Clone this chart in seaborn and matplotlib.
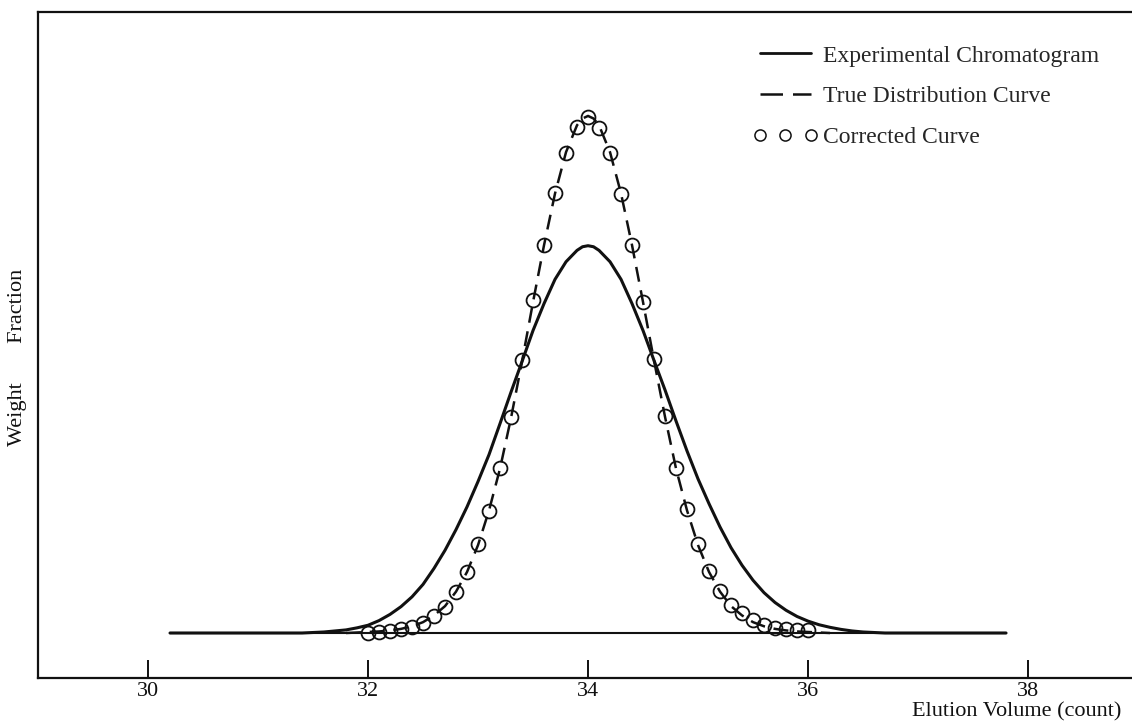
import numpy as np
import pandas as pd
import matplotlib
matplotlib.use("Agg")
import matplotlib.pyplot as plt
import seaborn as sns
from matplotlib.lines import Line2D

# ---------------- data ----------------
solid_x = [30.2, 31.4, 31.5, 31.6, 31.7, 31.8, 31.9, 32.0, 32.1, 32.2, 32.3, 32.4,
           32.5, 32.6, 32.7, 32.8, 32.9, 33.0, 33.1, 33.2, 33.3, 33.4, 33.5, 33.6,
           33.7, 33.8, 33.9, 33.95, 34.0, 34.05, 34.1, 34.2, 34.3, 34.4, 34.5, 34.6,
           34.7, 34.8, 34.9, 35.0, 35.1, 35.2, 35.3, 35.4, 35.5, 35.6, 35.7, 35.8,
           35.9, 36.0, 36.1, 36.2, 36.3, 36.4, 36.5, 36.6, 36.7, 37.8]
solid_y = [0.000, 0.000, 0.001, 0.002, 0.004, 0.006, 0.010, 0.015, 0.024, 0.036, 0.051, 0.070,
           0.094, 0.125, 0.160, 0.200, 0.244, 0.293, 0.345, 0.405, 0.466, 0.525, 0.585, 0.637,
           0.684, 0.718, 0.740, 0.747, 0.749, 0.747, 0.740, 0.718, 0.684, 0.637, 0.585, 0.527,
           0.470, 0.410, 0.352, 0.298, 0.250, 0.205, 0.165, 0.131, 0.102, 0.078, 0.059, 0.044,
           0.032, 0.023, 0.016, 0.011, 0.007, 0.004, 0.002, 0.001, 0.000, 0.000]

true_x = [31.8, 31.9, 32.0, 32.1, 32.2, 32.3, 32.4, 32.5, 32.6, 32.7, 32.8, 32.9,
          33.0, 33.1, 33.2, 33.3, 33.4, 33.5, 33.6, 33.7, 33.8, 33.9, 33.95, 34.0,
          34.05, 34.1, 34.2, 34.3, 34.4, 34.5, 34.6, 34.7, 34.8, 34.9, 35.0, 35.1,
          35.2, 35.3, 35.4, 35.5, 35.6, 35.7, 35.8, 35.9, 36.0, 36.1, 36.2]
true_y = [0.000, 0.001, 0.002, 0.003, 0.005, 0.008, 0.013, 0.021, 0.034, 0.052, 0.080, 0.118,
          0.170, 0.237, 0.318, 0.416, 0.525, 0.640, 0.750, 0.850, 0.930, 0.982, 0.995, 1.000,
          0.995, 0.982, 0.930, 0.850, 0.750, 0.640, 0.527, 0.418, 0.318, 0.237, 0.170, 0.118,
          0.080, 0.052, 0.034, 0.021, 0.013, 0.008, 0.005, 0.003, 0.002, 0.001, 0.000]

corr_x = [32.0, 32.1, 32.2, 32.3, 32.4, 32.5, 32.6, 32.7, 32.8, 32.9, 33.0, 33.1,
          33.2, 33.3, 33.4, 33.5, 33.6, 33.7, 33.8, 33.9, 34.0, 34.1, 34.2, 34.3,
          34.4, 34.5, 34.6, 34.7, 34.8, 34.9, 35.0, 35.1, 35.2, 35.3, 35.4, 35.5,
          35.6, 35.7, 35.8, 35.9, 36.0]
corr_y = [0.000, 0.002, 0.004, 0.008, 0.012, 0.019, 0.033, 0.050, 0.079, 0.118, 0.172, 0.236,
          0.319, 0.418, 0.528, 0.644, 0.750, 0.851, 0.928, 0.979, 0.998, 0.977, 0.928, 0.849,
          0.750, 0.641, 0.530, 0.420, 0.319, 0.240, 0.172, 0.120, 0.081, 0.054, 0.039, 0.025,
          0.015, 0.010, 0.008, 0.006, 0.006]

base_x = [30.2, 37.8]
base_y = [0.0, 0.0]

x_ticks = [30, 32, 34, 36, 38]
x_tick_labels = ["30", "32", "34", "36", "38"]

legend_labels = ["Experimental Chromatogram", "True Distribution Curve", "Corrected Curve"]
x_label = "Elution Volume (count)"
y_label = "Weight       Fraction"

# ---------------- plot ----------------
sns.set_theme(style="white")
plt.rcParams["font.family"] = ["Liberation Serif", "DejaVu Serif"]
FS = 17
INK = "#111111"

W, H = 1132, 723
fig = plt.figure(figsize=(W / 100, H / 100), dpi=100)
fig.patch.set_facecolor("white")
ax = fig.add_axes([38 / W, 1 - 678 / H, 1 - 38 / W, (678 - 12) / H])

sns.lineplot(x=base_x, y=base_y, ax=ax, color=INK, linewidth=1.5,
             estimator=None, sort=False)
sns.lineplot(x=solid_x, y=solid_y, ax=ax, color=INK, linewidth=2.2,
             estimator=None, sort=False)
sns.lineplot(x=true_x, y=true_y, ax=ax, color=INK, linewidth=1.8,
             linestyle=(0, (6, 3.5)), estimator=None, sort=False)
ax.plot(corr_x, corr_y, linestyle="none", marker="o", markersize=10,
        markerfacecolor="none", markeredgecolor=INK, markeredgewidth=1.3)

ax.set_xlim(29.0, 38.945)
ax.set_ylim(-0.087, 1.201)

ax.set_xticks(x_ticks)
ax.set_xticklabels(x_tick_labels)
ax.set_yticks([])
ax.tick_params(axis="x", direction="in", length=13, width=1.4, color=INK,
               pad=3, labelsize=16, labelcolor=INK, bottom=True)

for side in ["left", "bottom", "top"]:
    ax.spines[side].set_visible(True)
    ax.spines[side].set_linewidth(1.6)
    ax.spines[side].set_color(INK)
ax.spines["right"].set_visible(False)

fig.text(18 / W, 1 - 357 / H, y_label, rotation=90, ha="center", va="center",
         fontsize=16, color=INK)
fig.text(1121 / W, 1 - 712 / H, x_label, ha="right", va="center",
         fontsize=16, color=INK)

handles = [
    Line2D([], [], color=INK, linewidth=2.0),
    Line2D([], [], color=INK, linewidth=1.8, linestyle=(0, (9, 4))),
    Line2D([], [], linestyle="none", marker="o", markersize=8,
           markerfacecolor="none", markeredgecolor=INK, markeredgewidth=1.1),
]
ax.legend(handles=handles, labels=legend_labels, loc="upper left",
          bbox_to_anchor=(753 / W, 1 - 45 / H), bbox_transform=fig.transFigure,
          frameon=False, numpoints=3, fontsize=FS, handlelength=2.75,
          handletextpad=0.2, labelspacing=0.82, borderpad=0, borderaxespad=0)

fig.savefig("out.png", dpi=100, facecolor="white")
